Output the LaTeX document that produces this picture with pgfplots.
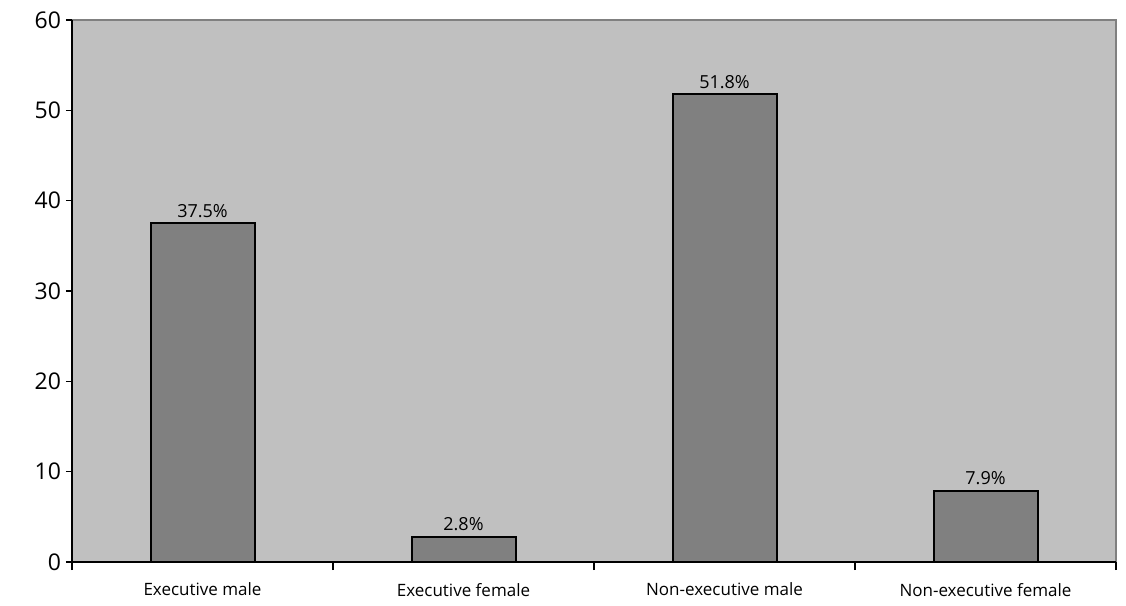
\documentclass[border=0pt]{standalone}
\usepackage{fontspec}
\setmainfont{Open Sans}
\usepackage{pgfplots}
\pgfplotsset{compat=1.18}
\definecolor{bg}{HTML}{C0C0C0}
\definecolor{barc}{HTML}{808080}
\begin{document}
\begin{tikzpicture}
\begin{axis}[
  name=ax,
  scale only axis,
  width=522pt, height=271pt,
  xmin=-0.5, xmax=3.5,
  ymin=0, ymax=60,
  ytick={0,10,...,60},
  xtick={0,1,2,3},
  xticklabels={Executive male,Executive female,Non-executive male,Non-executive female},
  minor xtick={-0.5,0.5,1.5,2.5,3.5},
  major x tick style={draw=none},
  minor x tick style={black, line width=0.8pt},
  y tick style={black, line width=0.8pt},
  tick align=outside,
  major tick length=3pt,
  minor tick length=4pt,
  axis x line*=bottom,
  axis y line*=left,
  axis line style={black, line width=0.9pt, -},
  axis background/.style={fill=bg, draw=barc, line width=0.8pt},
  /pgf/number format/assume math mode=true,
  yticklabel style={font=\fontsize{11.5}{13}\selectfont, xshift=1pt},
  xticklabel style={font=\fontsize{8.5}{10}\selectfont, yshift=-4pt},
  ybar, bar width=52pt,
  nodes near coords={\pgfmathprintnumber[fixed,precision=1,fixed zerofill]{\pgfplotspointmeta}\%},
  every node near coord/.append style={font=\fontsize{9}{11}\selectfont, black, yshift=-1pt},
]
\addplot[fill=barc, draw=black, line width=1pt] coordinates {(0,37.5) (1,2.8) (2,51.8) (3,7.9)};
\end{axis}
\path ([xshift=-36pt,yshift=-21.5pt]ax.south west) rectangle ([xshift=5pt,yshift=10pt]ax.north east);
\end{tikzpicture}
\end{document}
